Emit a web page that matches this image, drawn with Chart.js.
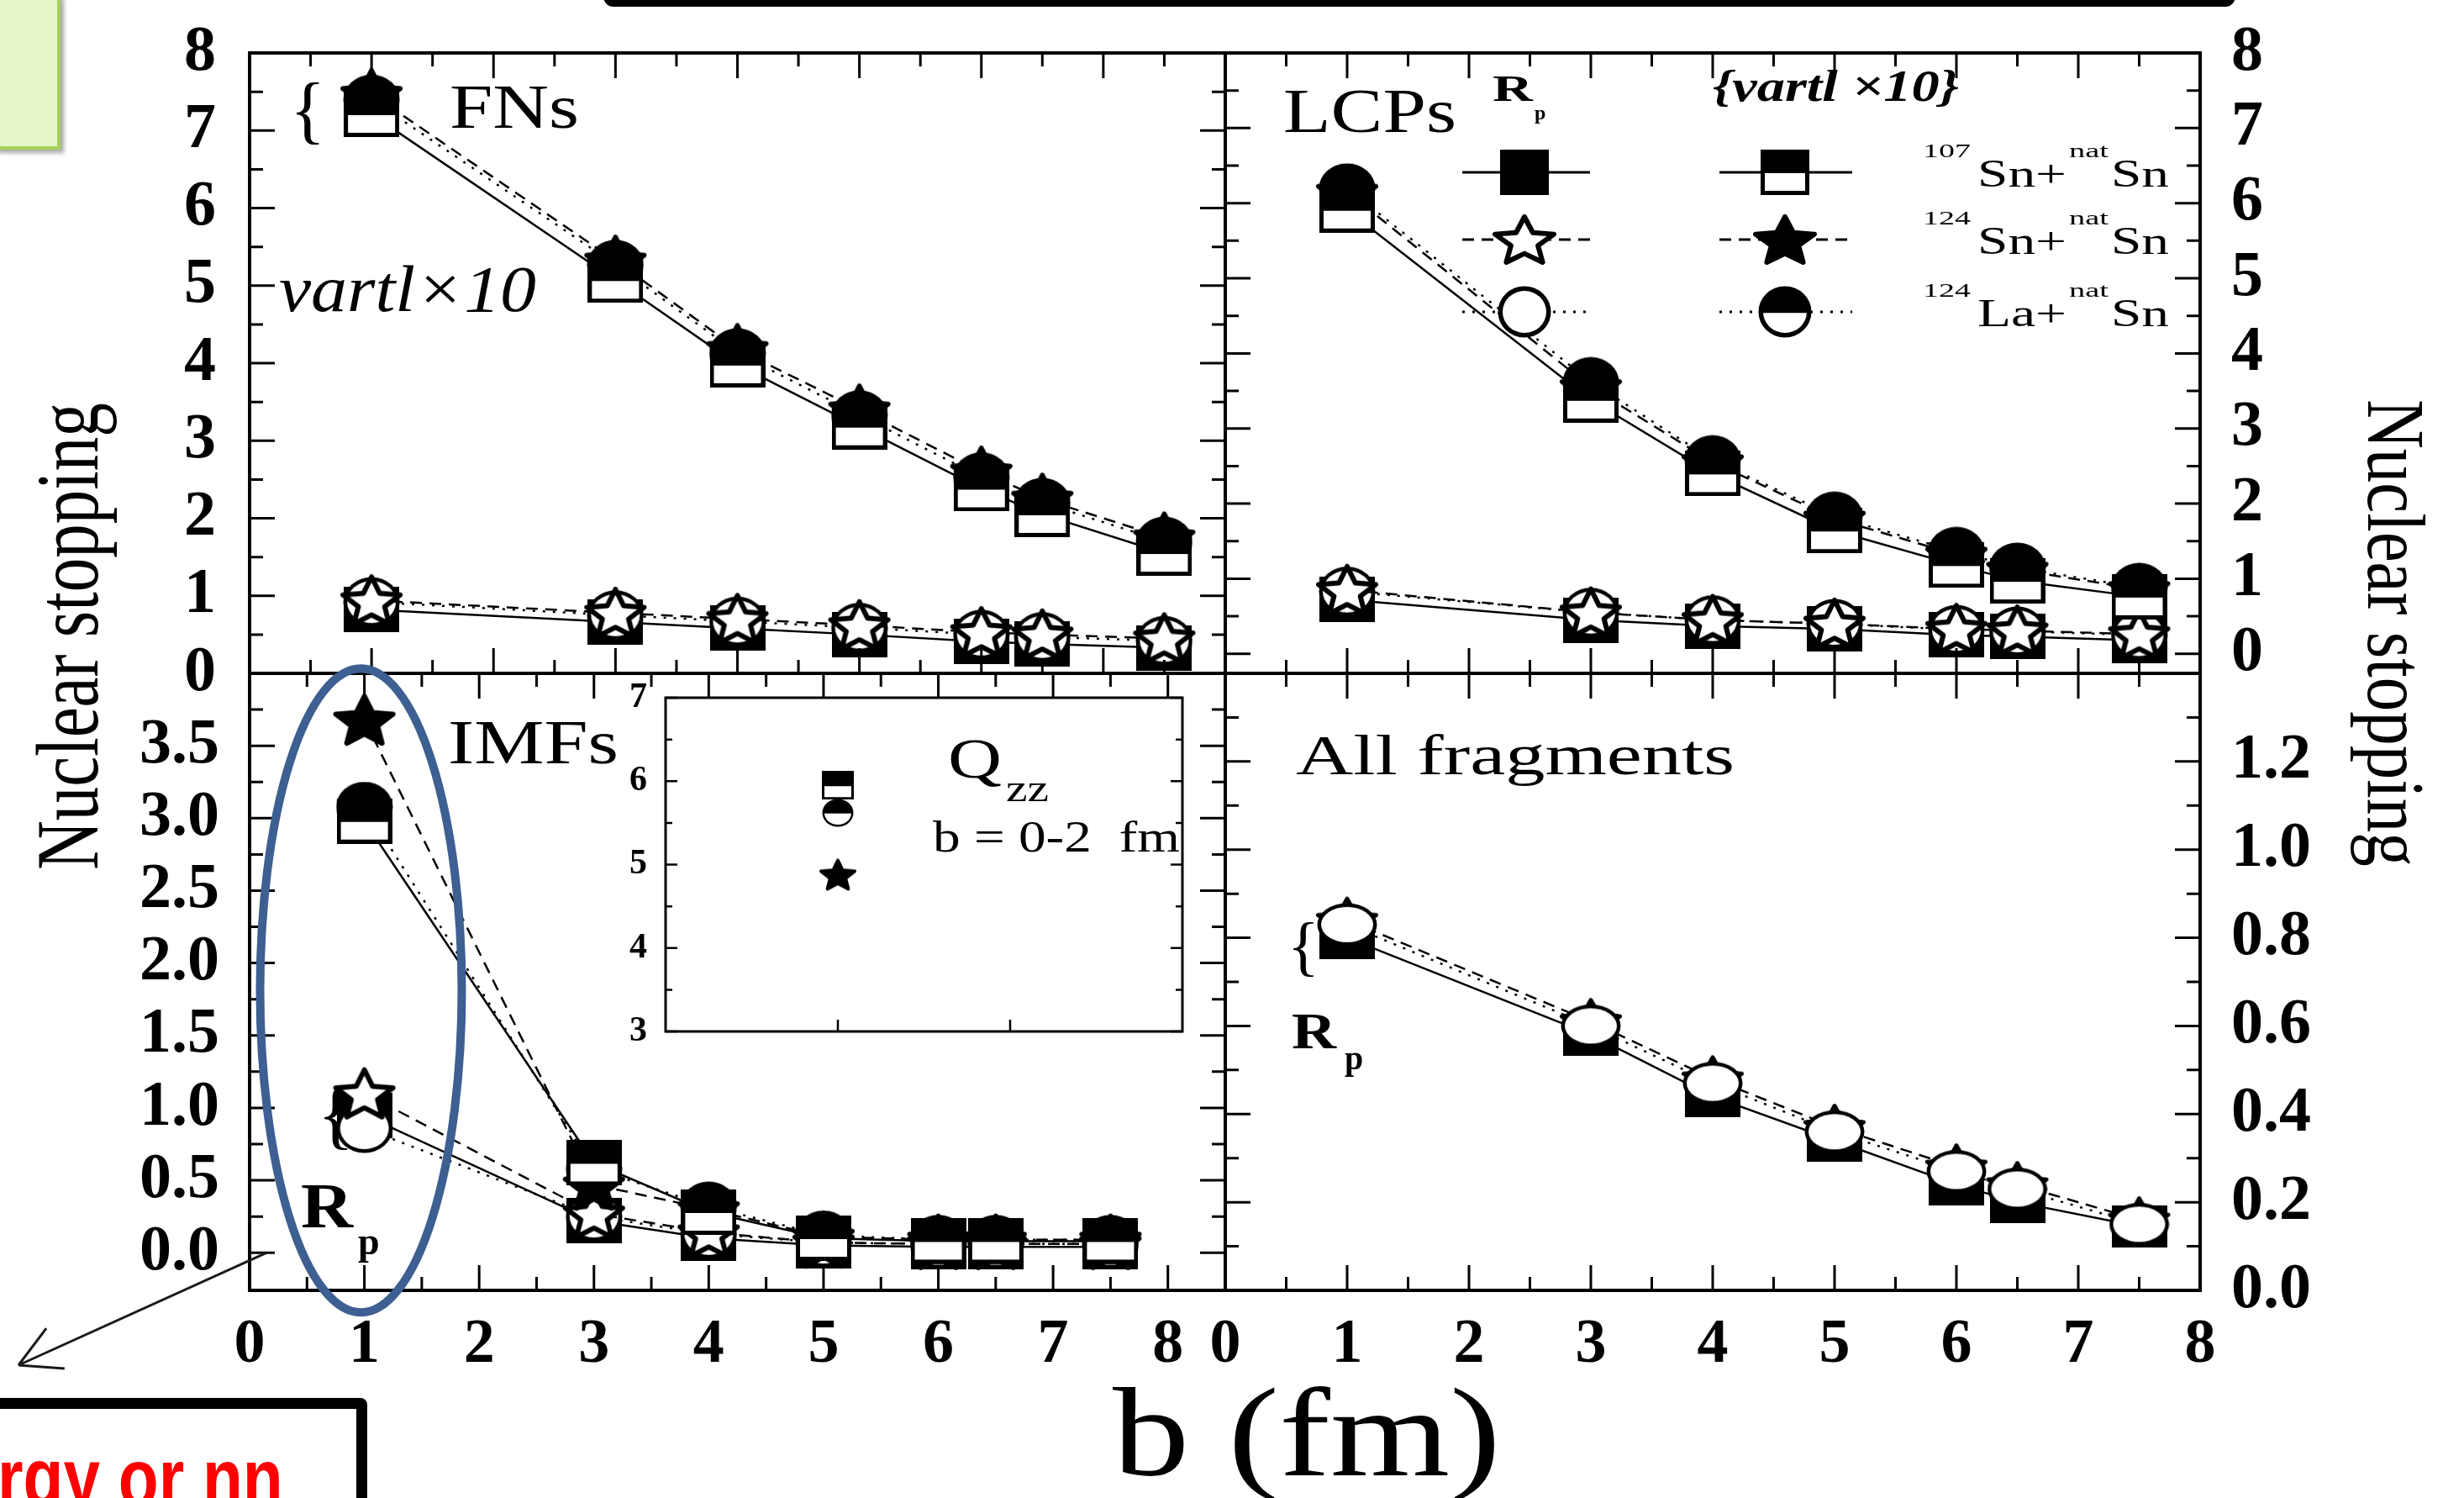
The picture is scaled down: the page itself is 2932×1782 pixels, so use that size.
<!DOCTYPE html>
<html>
<head>
<meta charset="utf-8">
<title>Nuclear stopping vs impact parameter</title>
<script src="https://cdn.jsdelivr.net/npm/chart.js@4.4.1/dist/chart.umd.min.js"></script>
<style>
  html, body { margin:0; padding:0; background:#fff; }
  body { width:2932px; height:1782px; overflow:hidden; position:relative; }
  canvas.layer { position:absolute; left:0; top:0; }
  #greenBox { position:absolute; left:-6px; top:-6px; width:70px; height:176px; background:#e5f6c8; border:4px solid #a6d157; box-shadow:4px 4px 5px rgba(0,0,0,0.35); }
  #topBox { position:absolute; left:718px; top:-60px; width:1924px; height:50px; border:9px solid #000; border-radius:12px; }
  #noteBox { position:absolute; left:-20px; top:1663px; width:431px; height:200px; border:13px solid #000; border-radius:8px; overflow:hidden; background:#fff; }
  #noteText { position:absolute; left:4px; top:34px; font-family:"Liberation Sans", Arial, sans-serif; font-weight:bold; font-size:98px; line-height:96px; color:#ff0000; white-space:nowrap; transform:scaleX(0.8); transform-origin:0 0; }
</style>
</head>
<body>
<div id="greenBox"></div>
<div id="topBox"></div>
<canvas class="layer" id="cTL" width="2932" height="1782"></canvas>
<canvas class="layer" id="cTR" width="2932" height="1782"></canvas>
<canvas class="layer" id="cBL" width="2932" height="1782"></canvas>
<canvas class="layer" id="cBR" width="2932" height="1782"></canvas>
<canvas class="layer" id="cIN" width="2932" height="1782"></canvas>
<div id="noteBox"><span id="noteText">rgy or nn</span></div>
<script>
// ================= DATA =================
const bValues = [1, 3, 4, 5, 6, 6.5, 7.5];

// FNs (top-left)
const fnVartl107Sn = [7.21, 5.07, 3.98, 3.18, 2.38, 2.05, 1.55];
const fnVartl124Sn = [7.47, 5.32, 4.18, 3.40, 2.60, 2.25, 1.75];
const fnVartl124La = [7.40, 5.27, 4.13, 3.33, 2.53, 2.20, 1.70];
const fnRp107Sn    = [0.82, 0.66, 0.58, 0.50, 0.41, 0.38, 0.33];
const fnRp124Sn    = [0.94, 0.78, 0.70, 0.62, 0.53, 0.50, 0.45];
const fnRp124La    = [0.92, 0.75, 0.67, 0.59, 0.50, 0.47, 0.42];

// LCPs (top-right)
const lcVartl107Sn = [5.91, 3.38, 2.40, 1.64, 1.18, 0.97, 0.76];
const lcVartl124Sn = [6.15, 3.55, 2.55, 1.80, 1.32, 1.12, 0.86];
const lcVartl124La = [6.20, 3.62, 2.58, 1.83, 1.36, 1.15, 0.88];
const lcRp107Sn    = [0.72, 0.45, 0.37, 0.33, 0.25, 0.23, 0.18];
const lcRp124Sn    = [0.85, 0.55, 0.45, 0.40, 0.33, 0.31, 0.26];
const lcRp124La    = [0.83, 0.55, 0.45, 0.40, 0.32, 0.30, 0.25];

// IMFs (bottom-left)
const imVartl107Sn = [2.98, 0.62, 0.28, 0.10, 0.08, 0.08, 0.08];
const imVartl124Sn = [3.68, 0.47, 0.30, 0.11, 0.09, 0.09, 0.09];
const imVartl124La = [3.08, 0.58, 0.32, 0.12, 0.09, 0.09, 0.09];
const imRp107Sn    = [0.95, 0.22, 0.10, 0.05, 0.04, 0.04, 0.04];
const imRp124Sn    = [1.10, 0.27, 0.14, 0.07, 0.06, 0.06, 0.06];
const imRp124La    = [0.86, 0.25, 0.13, 0.07, 0.06, 0.06, 0.06];

// All fragments (bottom-right)
const afRp107Sn = [0.80, 0.58, 0.44, 0.34, 0.24, 0.20, 0.145];
const afRp124Sn = [0.84, 0.61, 0.48, 0.37, 0.28, 0.24, 0.16];
const afRp124La = [0.83, 0.60, 0.47, 0.36, 0.27, 0.23, 0.15];

// Inset: Qzz, b = 0-2 fm
const qzzB = [1];
const qzz107Sn = [5.95];
const qzz124Sn = [4.88];
const qzz124La = [5.62];

// tick values
const bTicks = [0, 1, 2, 3, 4, 5, 6, 7, 8];
const bMinorTicks = [0.5, 1.5, 2.5, 3.5, 4.5, 5.5, 6.5, 7.5];
const stopTicks = [0, 1, 2, 3, 4, 5, 6, 7, 8];
const stopMinorTicks = [0.5, 1.5, 2.5, 3.5, 4.5, 5.5, 6.5, 7.5];
const imfTicks = [0, 0.5, 1.0, 1.5, 2.0, 2.5, 3.0, 3.5];
const imfMinorTicks = [0.25, 0.75, 1.25, 1.75, 2.25, 2.75, 3.25, 3.75];
const allTicks = [0, 0.2, 0.4, 0.6, 0.8, 1.0, 1.2];
const allMinorTicks = [0.1, 0.3, 0.5, 0.7, 0.9, 1.1, 1.3];
const qzzTicks = [3, 4, 5, 6, 7];
const qzzMinorTicks = [3.5, 4.5, 5.5, 6.5];
const qzzBTicks = [1, 2];

// text content
const reactionLabels = [['107', 'Sn+', 'nat', 'Sn'], ['124', 'Sn+', 'nat', 'Sn'], ['124', 'La+', 'nat', 'Sn']];
const yTitle = 'Nuclear stopping';
const xTitle = 'b (fm)';

// ================= STYLE / GEOMETRY =================
const W = 2932, H = 1782;
const SERIF = '"Liberation Serif","Times New Roman",Times,serif';
Chart.defaults.font.family = SERIF;
Chart.defaults.color = '#000';
const AXW = 160, AXH = 150;
const SOLID = [], DASH = [14, 9], DOT = [3, 9];

function markerCanvas(kind, mode, w, h) {
  const c = document.createElement('canvas');
  c.width = w; c.height = h;
  const g = c.getContext('2d');
  const lw = Math.max(3, Math.round(Math.min(w, h) * 0.09));
  if (kind === 'square') {
    g.fillStyle = '#000'; g.fillRect(0, 0, w, h);
    g.fillStyle = '#fff';
    if (mode === 'half') g.fillRect(lw, Math.round(h * 0.52), w - 2 * lw, h - Math.round(h * 0.52) - lw);
    if (mode === 'open') g.fillRect(lw, lw, w - 2 * lw, h - 2 * lw);
  } else if (kind === 'circle') {
    g.fillStyle = '#000';
    g.beginPath(); g.ellipse(w / 2, h / 2, w / 2 - 0.5, h / 2 - 0.5, 0, 0, 2 * Math.PI); g.fill();
    g.save();
    g.beginPath(); g.ellipse(w / 2, h / 2, w / 2 - lw, h / 2 - lw, 0, 0, 2 * Math.PI); g.clip();
    g.fillStyle = '#fff';
    if (mode === 'half') g.fillRect(0, h * 0.52, w, h);
    if (mode === 'open') g.fillRect(0, 0, w, h);
    g.restore();
  } else {
    const p = lw / 2 + 1;
    const rx = (w - 2 * p) / 1.902, ry = (h - 2 * p) / 1.809;
    const cx = w / 2, cy = p + ry;
    g.beginPath();
    for (let k = 0; k < 10; k++) {
      const a = -Math.PI / 2 + k * Math.PI / 5, r = (k % 2) ? 0.46 : 1;
      const px = cx + Math.cos(a) * r * rx, py = cy + Math.sin(a) * r * ry;
      if (k) g.lineTo(px, py); else g.moveTo(px, py);
    }
    g.closePath();
    g.fillStyle = mode === 'filled' ? '#000' : '#fff';
    g.fill();
    g.lineJoin = 'round'; g.lineWidth = lw; g.strokeStyle = '#000'; g.stroke();
  }
  return c;
}

const MK = {
  big: {
    sqFilled: markerCanvas('square', 'filled', 66, 54), sqHalf: markerCanvas('square', 'half', 66, 54),
    starOpen: markerCanvas('star', 'open', 76, 64), starFilled: markerCanvas('star', 'filled', 76, 64),
    circOpen: markerCanvas('circle', 'open', 68, 60), circHalf: markerCanvas('circle', 'half', 68, 60)
  },
  br: {
    sqFilled: markerCanvas('square', 'filled', 66, 50), starOpen: markerCanvas('star', 'open', 76, 58),
    circOpen: markerCanvas('circle', 'open', 72, 52)
  },
  leg: {
    sqFilled: markerCanvas('square', 'filled', 58, 54), sqHalf: markerCanvas('square', 'half', 58, 54),
    starOpen: markerCanvas('star', 'open', 78, 62), starFilled: markerCanvas('star', 'filled', 78, 62),
    circOpen: markerCanvas('circle', 'open', 64, 62), circHalf: markerCanvas('circle', 'half', 64, 62)
  },
  inset: {
    sqHalf: markerCanvas('square', 'half', 38, 34), circHalf: markerCanvas('circle', 'half', 38, 34),
    starFilled: markerCanvas('star', 'filled', 46, 40)
  }
};

function series(xs, ys, marker, dash, showLine) {
  return {
    data: xs.map((x, i) => ({ x: x, y: ys[i] })),
    showLine: showLine !== false, borderColor: '#000', borderWidth: 2.5, borderDash: dash,
    pointStyle: marker, pointRadius: 6, pointHoverRadius: 6, tension: 0, clip: false, fill: false
  };
}

function txt(ctx, s, x, y, font, w) {
  ctx.save();
  ctx.font = font; ctx.fillStyle = '#000'; ctx.textAlign = 'left'; ctx.textBaseline = 'alphabetic';
  const m = ctx.measureText(s).width;
  const sx = w ? w / m : 1;
  ctx.translate(x, y); ctx.scale(sx, 1); ctx.fillText(s, 0, 0);
  ctx.restore();
}

function framePlugin(name, spec) {
  return {
    id: 'frame' + name,
    beforeDatasetsDraw(chart) {
      if (!spec.bg) return;
      const a = chart.chartArea, ctx = chart.ctx;
      ctx.save(); ctx.fillStyle = '#fff'; ctx.fillRect(a.left, a.top, a.right - a.left, a.bottom - a.top); ctx.restore();
    },
    afterDraw(chart) {
      const ctx = chart.ctx, a = chart.chartArea, xs = chart.scales.x, ys = chart.scales.y;
      ctx.save();
      ctx.setLineDash([]);
      ctx.strokeStyle = '#000';
      ctx.lineWidth = spec.frameW;
      ctx.strokeRect(a.left, a.top, a.right - a.left, a.bottom - a.top);
      ctx.lineWidth = spec.tickW;
      ctx.beginPath();
      const addX = (vals, len) => vals.forEach(v => {
        const p = xs.getPixelForValue(v);
        if (spec.xSides.includes('b')) { ctx.moveTo(p, a.bottom); ctx.lineTo(p, a.bottom - len); }
        if (spec.xSides.includes('t')) { ctx.moveTo(p, a.top); ctx.lineTo(p, a.top + len); }
      });
      const addY = (vals, len) => vals.forEach(v => {
        const p = ys.getPixelForValue(v);
        if (spec.ySides.includes('l')) { ctx.moveTo(a.left, p); ctx.lineTo(a.left + len, p); }
        if (spec.ySides.includes('r')) { ctx.moveTo(a.right, p); ctx.lineTo(a.right - len, p); }
      });
      addX(spec.xMajor, spec.major); addX(spec.xMinor, spec.minor);
      addY(spec.yMajor, spec.major); addY(spec.yMinor, spec.minor);
      ctx.stroke();
      ctx.restore();
      if (spec.extra) spec.extra(chart, ctx);
    }
  };
}

function labelAxis(pos, min, max, tickVals, font, pad, decimals, size) {
  return {
    type: 'linear', position: pos, min: min, max: max,
    grid: { display: false, drawTicks: false }, border: { display: false },
    afterBuildTicks: s => { s.ticks = tickVals.map(v => ({ value: v })); },
    afterFit: s => {
      if (pos === 'left' || pos === 'right') s.width = size; else s.height = size;
      s.paddingTop = 0; s.paddingBottom = 0; s.paddingLeft = 0; s.paddingRight = 0;
    },
    ticks: { display: true, padding: pad, font: font, color: '#000', autoSkip: false, maxRotation: 0, minRotation: 0,
      callback: v => decimals ? Number(v).toFixed(decimals) : String(v) }
  };
}
function hiddenAxis(min, max) { return { type: 'linear', min: min, max: max, display: false }; }

function makeChart(id, datasets, padding, scales, plugin) {
  return new Chart(document.getElementById(id), {
    type: 'scatter',
    data: { datasets: datasets },
    options: {
      responsive: false, animation: false, devicePixelRatio: 1, events: [],
      layout: { autoPadding: false, padding: padding },
      plugins: { legend: { display: false }, tooltip: { enabled: false } },
      scales: scales
    },
    plugins: [plugin]
  });
}

const boldTick = { size: 76, weight: 'bold', lineHeight: 1.2 };
const xTick = { size: 74, weight: 'bold', lineHeight: 1.2 };

// ================= TOP-LEFT: FNs =================
makeChart('cTL', [
  series(bValues, fnVartl107Sn, MK.big.sqHalf, SOLID),
  series(bValues, fnVartl124Sn, MK.big.starFilled, DASH),
  series(bValues, fnVartl124La, MK.big.circHalf, DOT),
  series(bValues, fnRp124Sn, MK.big.starOpen, DASH),
  series(bValues, fnRp124La, MK.big.circOpen, DOT),
  series(bValues, fnRp107Sn, MK.big.sqFilled, SOLID)
], { left: 297 - AXW, top: 63, right: W - 1458, bottom: H - 801 }, {
  x: hiddenAxis(0, 8),
  y: labelAxis('left', 0, 8, stopTicks, boldTick, 40, 0, AXW)
}, framePlugin('TL', {
  frameW: 4, tickW: 3, major: 30, minor: 16, xSides: 'bt', ySides: 'lr',
  xMajor: bTicks, xMinor: bMinorTicks, yMajor: stopTicks, yMinor: stopMinorTicks,
  extra: (chart, ctx) => {
    txt(ctx, '{', 345, 160, '88px ' + SERIF);
    txt(ctx, 'FNs', 535, 152, '74px ' + SERIF, 154);
    txt(ctx, 'vartl\u00d710', 332, 370, 'italic 78px ' + SERIF, 306);
  }
}));

// ================= TOP-RIGHT: LCPs =================
makeChart('cTR', [
  series(bValues, lcVartl107Sn, MK.big.sqHalf, SOLID),
  series(bValues, lcVartl124Sn, MK.big.starFilled, DASH),
  series(bValues, lcVartl124La, MK.big.circHalf, DOT),
  series(bValues, lcRp124Sn, MK.big.starOpen, DASH),
  series(bValues, lcRp124La, MK.big.circOpen, DOT),
  series(bValues, lcRp107Sn, MK.big.sqFilled, SOLID)
], { left: 1458, top: 63, right: W - 2618 - AXW, bottom: H - 801 }, {
  x: hiddenAxis(0, 8),
  y: labelAxis('right', -0.26, 8, stopTicks, boldTick, 37, 0, AXW)
}, framePlugin('TR', {
  frameW: 4, tickW: 3, major: 30, minor: 16, xSides: 'bt', ySides: 'lr',
  xMajor: bTicks, xMinor: bMinorTicks, yMajor: stopTicks, yMinor: stopMinorTicks,
  extra: (chart, ctx) => {
    txt(ctx, 'LCPs', 1527, 157, '75px ' + SERIF, 206);
    txt(ctx, 'R', 1776, 120, 'bold 45px ' + SERIF, 48);
    txt(ctx, 'p', 1826, 142, 'bold 24px ' + SERIF);
    txt(ctx, '{vartl \u00d710}', 2038, 120, 'bold italic 52px ' + SERIF, 293);
    const rows = [205, 285, 371];
    const dashes = [SOLID, DASH, DOT];
    const col1 = [MK.leg.sqFilled, MK.leg.starOpen, MK.leg.circOpen];
    const col2 = [MK.leg.sqHalf, MK.leg.starFilled, MK.leg.circHalf];
    rows.forEach((y, i) => {
      ctx.save();
      ctx.strokeStyle = '#000'; ctx.lineWidth = 3; ctx.setLineDash(dashes[i]);
      ctx.beginPath(); ctx.moveTo(1740, y); ctx.lineTo(1892, y); ctx.moveTo(2046, y); ctx.lineTo(2204, y); ctx.stroke();
      ctx.restore();
      ctx.drawImage(col1[i], 1814 - col1[i].width / 2, y - col1[i].height / 2);
      ctx.drawImage(col2[i], 2124 - col2[i].width / 2, y - col2[i].height / 2);
      const L = reactionLabels[i];
      txt(ctx, L[0], 2288, y - 18, '24px ' + SERIF, 57);
      txt(ctx, L[1], 2353, y + 17, '46px ' + SERIF, 106);
      txt(ctx, L[2], 2462, y - 18, '24px ' + SERIF, 47);
      txt(ctx, L[3], 2512, y + 17, '46px ' + SERIF, 69);
    });
  }
}));

// ================= BOTTOM-LEFT: IMFs =================
makeChart('cBL', [
  series(bValues, imVartl107Sn, MK.big.sqHalf, SOLID),
  series(bValues, imVartl124Sn, MK.big.starFilled, DASH),
  series(bValues, imVartl124La, MK.big.circHalf, DOT),
  series(bValues, imRp124Sn, MK.big.starOpen, DASH),
  series(bValues, imRp124La, MK.big.circOpen, DOT),
  series(bValues, imRp107Sn, MK.big.sqFilled, SOLID)
], { left: 297 - AXW, top: 801, right: W - 1458, bottom: H - 1535 - AXH }, {
  x: labelAxis('bottom', 0, 8.5, bTicks, xTick, 21, 0, AXH),
  y: labelAxis('left', -0.26, 4, imfTicks, boldTick, 36, 1, AXW)
}, framePlugin('BL', {
  frameW: 4, tickW: 3, major: 30, minor: 16, xSides: 'bt', ySides: 'lr',
  xMajor: bTicks, xMinor: bMinorTicks, yMajor: imfTicks, yMinor: imfMinorTicks,
  extra: (chart, ctx) => {
    const xs = chart.scales.x, ys = chart.scales.y;
    txt(ctx, 'IMFs', 533, 908, '74px ' + SERIF, 203);
    txt(ctx, '{', 378, 1356, '90px ' + SERIF);
    txt(ctx, 'R', 358, 1460, 'bold 76px ' + SERIF, 62);
    txt(ctx, 'p', 426, 1492, 'bold 46px ' + SERIF);
    // highlight ellipse around b = 1 fm
    ctx.save();
    ctx.strokeStyle = '#3d5f91'; ctx.lineWidth = 10;
    const cx = xs.getPixelForValue(0.97), cy = ys.getPixelForValue(1.81);
    ctx.beginPath(); ctx.ellipse(cx, cy, 120, 383, 0, 0, 2 * Math.PI); ctx.stroke();
    // arrow
    const sx = xs.getPixelForValue(0.15), sy = ys.getPixelForValue(0.0);
    const tx = 22, ty = 1624;
    ctx.strokeStyle = '#1a1a1a'; ctx.lineWidth = 3;
    ctx.beginPath(); ctx.moveTo(sx, sy); ctx.lineTo(tx, ty);
    const ang = Math.atan2(sy - ty, sx - tx);
    [0.5, -0.5].forEach(d => { ctx.moveTo(tx, ty); ctx.lineTo(tx + 55 * Math.cos(ang + d), ty + 55 * Math.sin(ang + d)); });
    ctx.stroke();
    ctx.restore();
    // axis titles (shared by all panels)
    ctx.save();
    ctx.font = '81px ' + SERIF; ctx.fillStyle = '#000'; ctx.textAlign = 'center'; ctx.textBaseline = 'alphabetic';
    ctx.translate(116, 757); ctx.rotate(-Math.PI / 2); ctx.scale(1, 1.3); ctx.fillText(yTitle, 0, 0);
    ctx.restore();
    ctx.save();
    ctx.font = '81px ' + SERIF; ctx.fillStyle = '#000'; ctx.textAlign = 'center'; ctx.textBaseline = 'alphabetic';
    ctx.translate(2818, 753); ctx.rotate(Math.PI / 2); ctx.scale(1, 1.2); ctx.fillText(yTitle, 0, 0);
    ctx.restore();
    txt(ctx, xTitle, 1324, 1755, '150px ' + SERIF, 462);
  }
}));

// ================= BOTTOM-RIGHT: All fragments =================
makeChart('cBR', [
  series(bValues, afRp124La, MK.br.circOpen, DOT),
  series(bValues, afRp107Sn, MK.br.sqFilled, SOLID),
  series(bValues, afRp124Sn, MK.br.starOpen, DASH)
], { left: 1458, top: 801, right: W - 2618 - AXW, bottom: H - 1535 - AXH }, {
  x: labelAxis('bottom', 0, 8, bTicks, xTick, 21, 0, AXH),
  y: labelAxis('right', 0, 1.4, allTicks, boldTick, 37, 1, AXW)
}, framePlugin('BR', {
  frameW: 4, tickW: 3, major: 30, minor: 16, xSides: 'bt', ySides: 'lr',
  xMajor: bTicks, xMinor: bMinorTicks, yMajor: allTicks, yMinor: allMinorTicks,
  extra: (chart, ctx) => {
    txt(ctx, 'All fragments', 1542, 921, '67px ' + SERIF, 522);
    txt(ctx, '{', 1532, 1152, '79px ' + SERIF);
    txt(ctx, 'R', 1537, 1247, 'bold 62px ' + SERIF, 53);
    txt(ctx, 'p', 1600, 1272, 'bold 40px ' + SERIF);
  }
}));

// ================= INSET: Qzz =================
makeChart('cIN', [
  series(qzzB, qzz107Sn, MK.inset.sqHalf, SOLID, false),
  series(qzzB, qzz124La, MK.inset.circHalf, DOT, false),
  series(qzzB, qzz124Sn, MK.inset.starFilled, DASH, false)
], { left: 792 - 60, top: 830, right: W - 1407, bottom: H - 1227 }, {
  x: hiddenAxis(0, 3),
  y: labelAxis('left', 3, 7, qzzTicks, { size: 42, weight: 'bold', lineHeight: 1.2 }, 22, 0, 60)
}, framePlugin('IN', {
  bg: true, frameW: 3, tickW: 2.5, major: 14, minor: 8, xSides: 'b', ySides: 'lr',
  xMajor: qzzBTicks, xMinor: [], yMajor: qzzTicks, yMinor: qzzMinorTicks,
  extra: (chart, ctx) => {
    txt(ctx, 'Q', 1128, 925, '68px ' + SERIF, 64);
    txt(ctx, 'zz', 1197, 953, '46px ' + SERIF, 51);
    txt(ctx, 'b = 0-2  fm', 1110, 1013, '53px ' + SERIF, 294);
  }
}));
</script>
</body>
</html>
